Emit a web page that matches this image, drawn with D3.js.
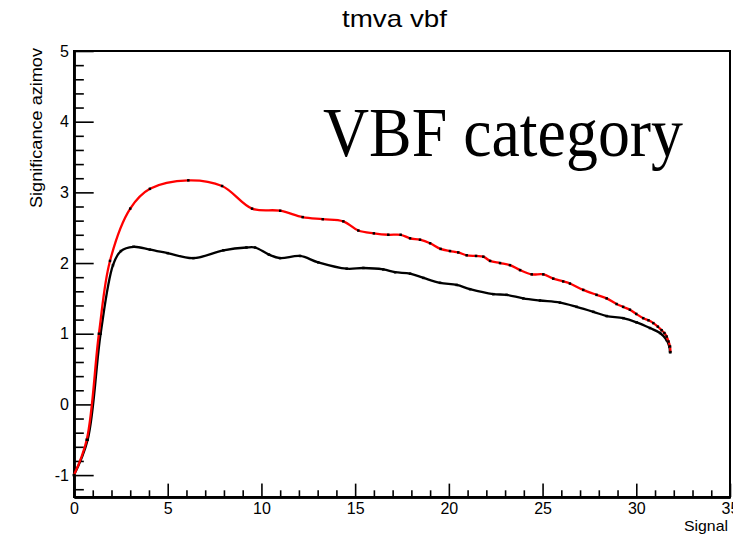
<!DOCTYPE html>
<html>
<head>
<meta charset="utf-8">
<script src="https://cdn.jsdelivr.net/npm/d3@7"></script>
<style>
  html, body { margin: 0; padding: 0; background: #fff; }
  svg { display: block; }
  text { font-family: "Liberation Sans", Arial, Helvetica, sans-serif; fill: #000; }
</style>
</head>
<body>
<svg id="chart" width="733" height="537"></svg>
<script>
// ---- data ----
const title = "tmva vbf";
const xTitle = "Signal";
const yTitle = "Significance azimov";
const annotation = "VBF category";

const xMajorTicks = [0, 5, 10, 15, 20, 25, 30, 35];
const yMajorTicks = [-1, 0, 1, 2, 3, 4, 5];

// red series (TMVA)
const redSignal = [0, 0.68, 1.33, 1.92, 3.0, 4.05, 6.1, 7.9, 9.5, 11.0, 12.2, 13.27, 14.37, 15.17, 16.0, 16.77, 17.43,
  17.93, 18.46, 19.0, 19.56, 20.06, 20.5, 20.95, 21.45, 21.84, 22.2, 22.73, 23.26, 23.8, 24.42, 25.04, 25.57,
  26.1, 26.46, 27.17, 27.88, 28.42, 28.95, 29.3, 29.66, 30.0, 30.37, 30.65, 30.91, 31.15, 31.35, 31.5, 31.62,
  31.72, 31.8, 31.82];
const redSignif = [-1.0, -0.5, 1.0, 2.03, 2.77, 3.05, 3.17, 3.09, 2.77, 2.74, 2.65, 2.62, 2.59, 2.46, 2.42, 2.40, 2.40,
  2.35, 2.33, 2.28, 2.20, 2.17, 2.15, 2.11, 2.10, 2.09, 2.03, 2.00, 1.97, 1.90, 1.84, 1.84, 1.78,
  1.74, 1.71, 1.62, 1.55, 1.50, 1.42, 1.38, 1.34, 1.28, 1.22, 1.19, 1.15, 1.10, 1.05, 1.01, 0.96,
  0.89, 0.82, 0.74];

// black series
const blackSignal = [0, 0.73, 1.42, 2.08, 2.5, 3.17, 4.05, 5.0, 6.37, 7.97, 9.2, 9.66, 10.4, 10.99, 12.06, 13.03, 14.55,
  15.44, 16.5, 17.13, 17.93, 18.64, 19.53, 20.42, 21.13, 22.37, 23.08, 23.97, 24.86, 25.93, 26.82, 27.71,
  28.42, 29.31, 30.02, 30.73, 31.27, 31.62, 31.76, 31.8];
const blackSignif = [-1.0, -0.5, 1.0, 1.97, 2.17, 2.23, 2.19, 2.14, 2.07, 2.18, 2.22, 2.22, 2.12, 2.07, 2.10, 2.01, 1.92,
  1.93, 1.91, 1.87, 1.85, 1.79, 1.72, 1.69, 1.63, 1.56, 1.55, 1.50, 1.47, 1.44, 1.38, 1.31,
  1.25, 1.22, 1.16, 1.08, 1.01, 0.91, 0.82, 0.74];

// ---- drawing ----
const svg = d3.select("#chart");
const x = d3.scaleLinear().domain([0, 35]).range([74, 730]);
const y = d3.scaleLinear().domain([-1.31, 5]).range([497, 51]);

const xMinor = d3.range(0, 36, 1).filter(v => v % 5 !== 0);
const yMinor = d3.range(-6, 26, 1).map(v => +(v * 0.2).toFixed(2)).filter(v => Math.abs(v - Math.round(v)) > 1e-6);

const xTickLen = 0.03 * (497 - 51);
const yTickLen = 0.03 * (730 - 74);
const fmt = d => String(d);

// frame
svg.append("rect").attr("x", 74).attr("y", 51).attr("width", 656).attr("height", 446)
  .attr("fill", "none").attr("stroke", "#000").attr("stroke-width", 2);

// x axis
const gx = svg.append("g").attr("transform", "translate(0,497)");
gx.call(d3.axisBottom(x).tickValues(xMajorTicks).tickFormat(fmt)
  .tickSizeInner(-xTickLen).tickSizeOuter(0).tickPadding(6));
gx.append("g").call(d3.axisBottom(x).tickValues(xMinor).tickFormat("")
  .tickSizeInner(-xTickLen / 2).tickSizeOuter(0));
gx.selectAll(".domain").attr("stroke-width", 2.5);
gx.selectAll(".tick line").attr("stroke-width", 1.6);
gx.selectAll("text").attr("font-size", 16).style("font-family", "Liberation Sans, Arial, sans-serif");

// y axis
const gy = svg.append("g").attr("transform", "translate(74,0)");
gy.call(d3.axisLeft(y).tickValues(yMajorTicks).tickFormat(fmt)
  .tickSizeInner(-yTickLen).tickSizeOuter(0).tickPadding(5));
gy.append("g").call(d3.axisLeft(y).tickValues(yMinor).tickFormat("")
  .tickSizeInner(-yTickLen / 2).tickSizeOuter(0));
gy.selectAll(".domain").attr("stroke-width", 2.5);
gy.selectAll(".tick line").attr("stroke-width", 1.6);
gy.selectAll("text").attr("font-size", 16).style("font-family", "Liberation Sans, Arial, sans-serif");

// curves
const line = d3.line().x(d => x(d[0])).y(d => y(d[1])).curve(d3.curveCatmullRom.alpha(0.5));
const blackPts = blackSignal.map((v, i) => [v, blackSignif[i]]);
const redPts = redSignal.map((v, i) => [v, redSignif[i]]);

svg.append("path").attr("d", line(blackPts)).attr("fill", "none")
  .attr("stroke", "#000").attr("stroke-width", 2.3).attr("stroke-linejoin", "round");
svg.append("g").selectAll("rect").data(blackPts).join("rect")
  .attr("x", d => x(d[0]) - 1.25).attr("y", d => y(d[1]) - 1.25)
  .attr("width", 2.5).attr("height", 2.5).attr("fill", "#000");

svg.append("path").attr("d", line(redPts)).attr("fill", "none")
  .attr("stroke", "#ff0000").attr("stroke-width", 2.3).attr("stroke-linejoin", "round");
svg.append("g").selectAll("rect").data(redPts).join("rect")
  .attr("x", d => x(d[0]) - 1.25).attr("y", d => y(d[1]) - 1.25)
  .attr("width", 2.5).attr("height", 2.5).attr("fill", "#000");

// texts
svg.append("text").attr("x", 394.5).attr("y", 27).attr("text-anchor", "middle")
  .attr("font-size", 24).attr("textLength", 105).attr("lengthAdjust", "spacingAndGlyphs").text(title);

svg.append("text").attr("transform", "translate(42,48) rotate(-90)").attr("text-anchor", "end")
  .attr("font-size", 16).attr("textLength", 160).attr("lengthAdjust", "spacingAndGlyphs").text(yTitle);

svg.append("text").attr("x", 728).attr("y", 531).attr("text-anchor", "end")
  .attr("font-size", 15).attr("textLength", 44).attr("lengthAdjust", "spacingAndGlyphs").text(xTitle);

svg.append("text").attr("x", 323).attr("y", 156)
  .style("font-family", "Liberation Serif, 'Times New Roman', serif")
  .attr("font-size", 70).attr("textLength", 360).attr("lengthAdjust", "spacingAndGlyphs").text(annotation);
</script>
</body>
</html>
